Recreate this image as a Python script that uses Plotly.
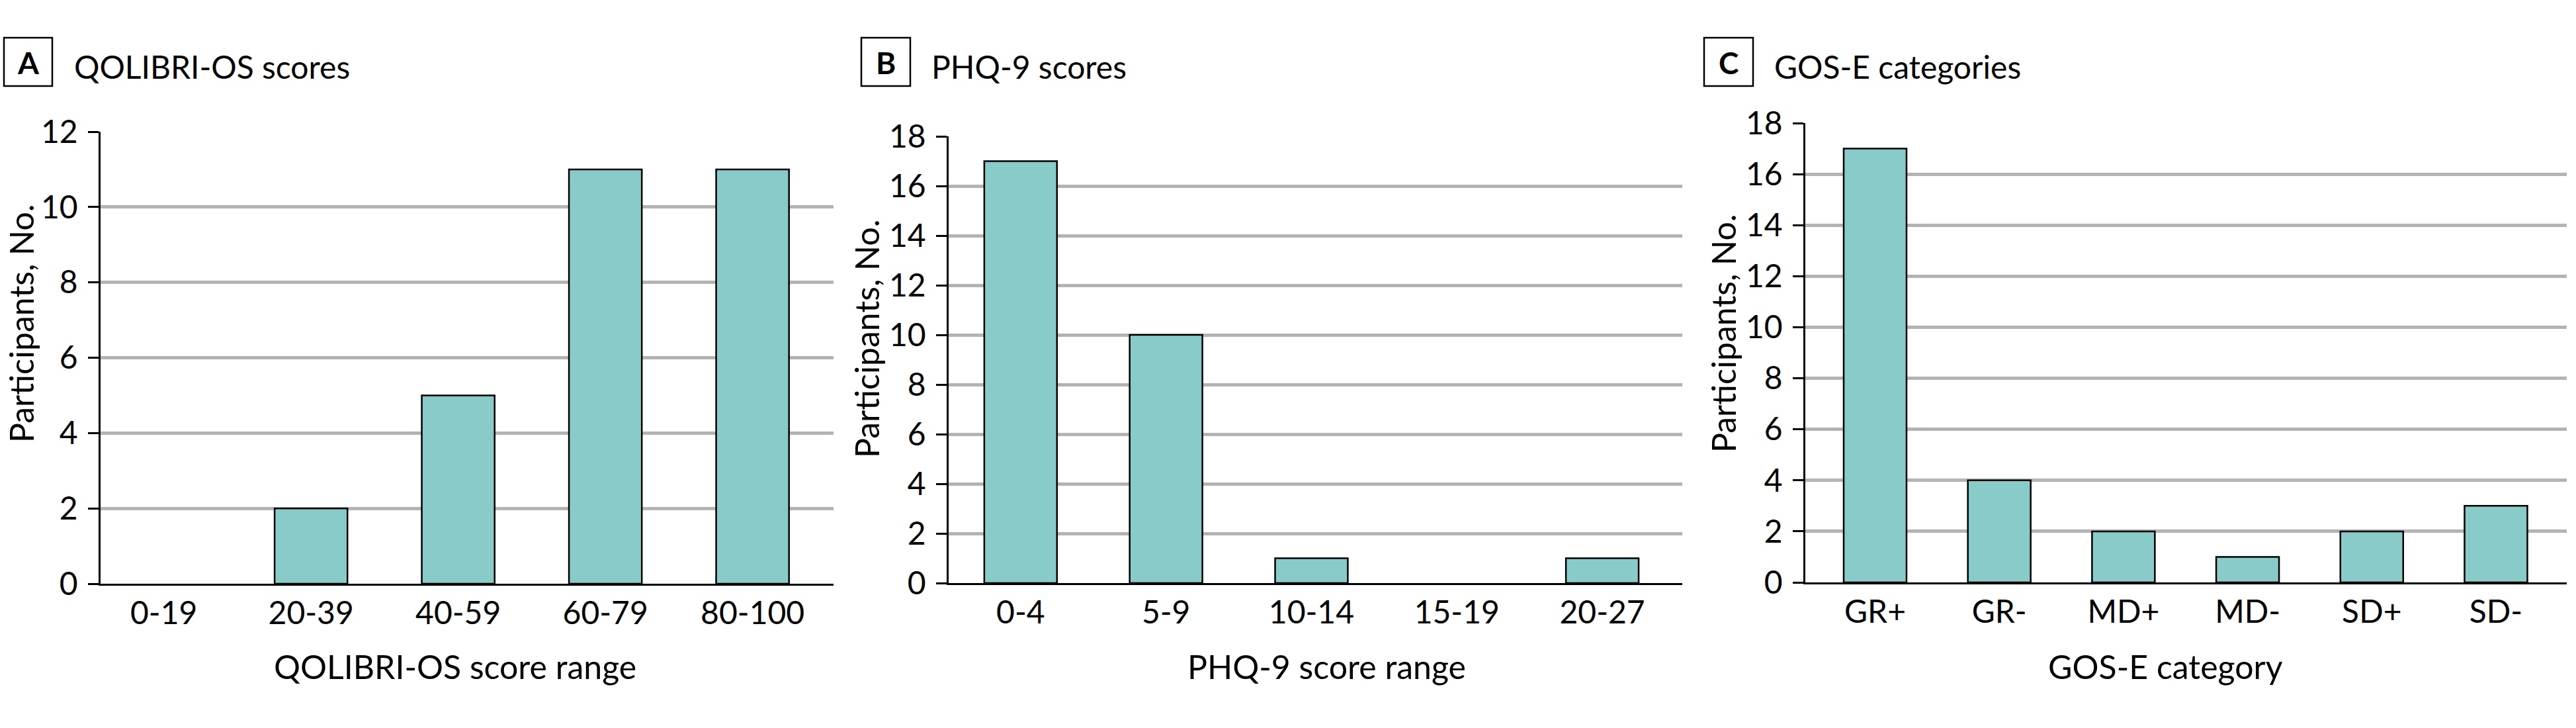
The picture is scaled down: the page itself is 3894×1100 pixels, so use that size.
import plotly.graph_objects as go

W, H = 3894, 1100

# ---- data ----
qol_categories = ["0-19", "20-39", "40-59", "60-79", "80-100"]
qol_counts = [0, 2, 5, 11, 11]

phq_categories = ["0-4", "5-9", "10-14", "15-19", "20-27"]
phq_counts = [17, 10, 1, 0, 1]

gose_categories = ["GR+", "GR-", "MD+", "MD-", "SD+", "SD-"]
gose_counts = [17, 4, 2, 1, 2, 3]

panel_letters = ["A", "B", "C"]
panel_titles = ["QOLIBRI-OS scores", "PHQ-9 scores", "GOS-E categories"]
x_titles = ["QOLIBRI-OS score range", "PHQ-9 score range", "GOS-E category"]
y_title = "Participants, No."
y_ticks_a = [0, 2, 4, 6, 8, 10, 12]
y_ticks_bc = [0, 2, 4, 6, 8, 10, 12, 14, 16, 18]

FONT = "Lato, 'Open Sans', 'Noto Sans', sans-serif"
BAR = "#88CBC8"
GRID = "#b3b3b3"


def px(x):
    return x / W


def py(y):
    return 1 - y / H


fig = go.Figure()

panels = [
    dict(cats=qol_categories, vals=qol_counts, xd=(152, 1260), yd=(882, 199),
         xr=(-0.43, 4.55), yr=(0, 12), ticks=y_ticks_a, width=0.495,
         box=(6, 79), title_x=110, xt_x=688, yt_x=32, yt_y=489),
    dict(cats=phq_categories, vals=phq_counts, xd=(1434, 2543), yd=(881, 206),
         xr=(-0.495, 4.55), yr=(0, 18), ticks=y_ticks_bc, width=0.5,
         box=(1302, 1376), title_x=1406, xt_x=2005, yt_x=1310, yt_y=512),
    dict(cats=gose_categories, vals=gose_counts, xd=(2729, 3880), yd=(880, 186),
         xr=(-0.562, 5.57), yr=(0, 18), ticks=y_ticks_bc, width=0.506,
         box=(2576, 2650), title_x=2680, xt_x=3273, yt_x=2605, yt_y=504),
]

annotations = []
shapes = []
for i, p in enumerate(panels):
    n = "" if i == 0 else str(i + 1)
    xa = "x" + n
    ya = "y" + n
    fig.add_trace(go.Bar(
        x=p["cats"], y=p["vals"], xaxis=xa, yaxis=ya,
        width=p["width"],
        marker=dict(color=BAR, line=dict(color="black",
                                         width=[0 if v == 0 else 2.5 for v in p["vals"]])),
        showlegend=False, hoverinfo="x+y",
    ))
    fig.layout["xaxis" + n] = dict(
        domain=[px(p["xd"][0]), px(p["xd"][1])],
        anchor=ya, type="category", range=list(p["xr"]),
        showline=True, linecolor="black", linewidth=3,
        showgrid=False, ticks="", zeroline=False, automargin=False,
        tickfont=dict(family=FONT, size=48, color="black"),
        fixedrange=True,
    )
    fig.layout["yaxis" + n] = dict(
        domain=[py(p["yd"][0]), py(p["yd"][1])],
        anchor=xa, range=list(p["yr"]),
        tickvals=p["ticks"],
        showline=True, linecolor="black", linewidth=2.5,
        ticks="outside", ticklen=16, tickwidth=2.5, tickcolor="black",
        showgrid=True, gridcolor=GRID, gridwidth=4.5,
        zeroline=False, automargin=False,
        tickfont=dict(family=FONT, size=48, color="black"),
        ticklabelstandoff=6,
        fixedrange=True,
    )
    # panel letter box
    shapes.append(dict(type="rect", xref="paper", yref="paper",
                       x0=px(p["box"][0]), x1=px(p["box"][1]),
                       y0=py(130), y1=py(57),
                       line=dict(color="black", width=2.5), fillcolor="white"))
    annotations.append(dict(text="<b>%s</b>" % panel_letters[i], xref="paper", yref="paper",
                            x=px((p["box"][0] + p["box"][1]) / 2), y=py(94),
                            xanchor="center", yanchor="middle", showarrow=False,
                            font=dict(family=FONT, size=46, color="black")))
    annotations.append(dict(text=panel_titles[i], xref="paper", yref="paper",
                            x=px(p["title_x"]), y=py(100),
                            xanchor="left", yanchor="middle", showarrow=False,
                            font=dict(family=FONT, size=48, color="black")))
    annotations.append(dict(text=x_titles[i], xref="paper", yref="paper",
                            x=px(p["xt_x"]), y=py(1007),
                            xanchor="center", yanchor="middle", showarrow=False,
                            font=dict(family=FONT, size=50, color="black")))
    annotations.append(dict(text=y_title, xref="paper", yref="paper",
                            x=px(p["yt_x"]), y=py(p["yt_y"]), textangle=-90,
                            xanchor="center", yanchor="middle", showarrow=False,
                            font=dict(family=FONT, size=50, color="black")))

fig.update_layout(
    width=W, height=H,
    margin=dict(l=0, r=0, t=0, b=0, pad=0, autoexpand=False),
    paper_bgcolor="white", plot_bgcolor="white",
    annotations=annotations, shapes=shapes,
    font=dict(family=FONT, color="black"),
    bargap=0.5,
)

fig.write_html("out.html", config={"displayModeBar": False})
